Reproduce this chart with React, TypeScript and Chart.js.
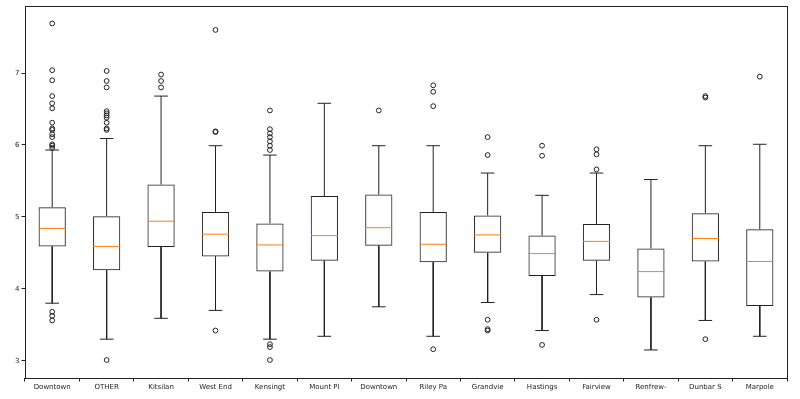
import React, { useEffect, useRef } from "react";
import { Chart, registerables } from "chart.js";

Chart.register(...registerables);

const categories = [
  "Downtown", "OTHER", "Kitsilan", "West End", "Kensingt", "Mount Pl", "Downtown",
  "Riley Pa", "Grandvie", "Hastings", "Fairview", "Renfrew-", "Dunbar S", "Marpole",
];

const q1 = [4.59, 4.26, 4.58, 4.45, 4.24, 4.39, 4.60, 4.37, 4.50, 4.18, 4.39, 3.88, 4.38, 3.76];
const median = [4.84, 4.59, 4.94, 4.76, 4.61, 4.74, 4.85, 4.62, 4.75, 4.49, 4.66, 4.24, 4.70, 4.38];
const q3 = [5.135, 5.01, 5.45, 5.07, 4.91, 5.29, 5.31, 5.07, 5.02, 4.74, 4.90, 4.56, 5.05, 4.83];
const whiskerLow = [3.80, 3.30, 3.59, 3.70, 3.30, 3.34, 3.75, 3.34, 3.81, 3.42, 3.92, 3.15, 3.56, 3.34];
const whiskerHigh = [5.93, 6.09, 6.68, 5.99, 5.86, 6.58, 5.99, 5.99, 5.61, 5.30, 5.61, 5.52, 5.99, 6.01];

const outliers: number[][] = [
  [7.69, 7.04, 6.90, 6.68, 6.58, 6.51, 6.31, 6.23, 6.21, 6.15, 6.11, 6.01, 5.99, 5.96, 3.68, 3.625, 3.56],
  [7.03, 6.89, 6.80, 6.47, 6.44, 6.41, 6.38, 6.31, 6.23, 6.21, 3.01],
  [6.98, 6.89, 6.80],
  [7.60, 6.19, 6.18, 3.42],
  [6.48, 6.22, 6.16, 6.11, 6.05, 5.99, 5.93, 3.23, 3.19, 3.01],
  [],
  [6.48],
  [6.83, 6.74, 6.54, 3.16],
  [6.11, 5.86, 3.57, 3.44, 3.42],
  [5.99, 5.85, 3.22],
  [5.94, 5.87, 5.66, 3.57],
  [],
  [6.68, 6.66, 3.30],
  [6.95],
];

const yTicks = [3, 4, 5, 6, 7];
const yMin = 2.76;
const yMax = 7.93;
const boxWidth = 0.5;
const capWidth = 0.25;

const framePlugin = {
  id: "frame",
  afterDraw(chart: any) {
    const { ctx, chartArea } = chart;
    ctx.save();
    ctx.strokeStyle = "#222";
    ctx.lineWidth = 1;
    ctx.strokeRect(
      Math.round(chartArea.left) + 0.5,
      Math.round(chartArea.top) + 0.5,
      Math.round(chartArea.right - chartArea.left),
      Math.round(chartArea.bottom - chartArea.top)
    );
    ctx.restore();
  },
};

export default function App() {
  const ref = useRef<HTMLCanvasElement | null>(null);

  useEffect(() => {
    if (!ref.current) return;
    const xs = categories.map((_, i) => i + 1);

    const boxes = xs.map((x, i) => ({ x, y: [q1[i], q3[i]] }));

    const whiskers: any[] = [];
    xs.forEach((x, i) => {
      whiskers.push({ x, y: q1[i] }, { x, y: whiskerLow[i] }, { x, y: null });
      whiskers.push({ x, y: q3[i] }, { x, y: whiskerHigh[i] }, { x, y: null });
      whiskers.push({ x: x - capWidth / 2, y: whiskerLow[i] }, { x: x + capWidth / 2, y: whiskerLow[i] }, { x, y: null });
      whiskers.push({ x: x - capWidth / 2, y: whiskerHigh[i] }, { x: x + capWidth / 2, y: whiskerHigh[i] }, { x, y: null });
    });

    const medians: any[] = [];
    xs.forEach((x, i) => {
      medians.push({ x: x - boxWidth / 2, y: median[i] }, { x: x + boxWidth / 2, y: median[i] }, { x, y: null });
    });

    const fliers: any[] = [];
    xs.forEach((x, i) => outliers[i].forEach((v) => fliers.push({ x, y: v })));

    const font = { family: "'DejaVu Sans', sans-serif", size: 7 };

    const chart = new Chart(ref.current, {
      type: "bar",
      data: {
        datasets: [
          {
            type: "bar",
            data: boxes as any,
            backgroundColor: "rgba(255,255,255,0)",
            borderColor: "#222",
            borderWidth: 1,
            borderSkipped: false,
            categoryPercentage: 1,
            barPercentage: boxWidth,
            order: 3,
          } as any,
          {
            type: "line",
            data: whiskers,
            borderColor: "#222",
            borderWidth: 1,
            pointRadius: 0,
            spanGaps: false,
            order: 2,
          },
          {
            type: "line",
            data: medians,
            borderColor: "#ff7f0e",
            borderWidth: 1,
            pointRadius: 0,
            spanGaps: false,
            order: 1,
          },
          {
            type: "scatter",
            data: fliers,
            pointStyle: "circle",
            pointRadius: 2.4,
            backgroundColor: "rgba(0,0,0,0)",
            borderColor: "#222",
            borderWidth: 1,
            order: 0,
          },
        ],
      },
      options: {
        animation: false,
        responsive: true,
        maintainAspectRatio: false,
        layout: { padding: { top: 6, right: 13, left: 0, bottom: 0 } },
        plugins: { legend: { display: false }, tooltip: { enabled: false }, title: { display: false } },
        scales: {
          x: {
            type: "linear",
            min: 0.5,
            max: 14.5,
            offset: false,
            afterBuildTicks: (scale: any) => {
              scale.ticks = xs.map((v) => ({ value: v }));
            },
            afterFit: (scale: any) => {
              scale.height = 21;
            },
            ticks: {
              autoSkip: false,
              maxRotation: 0,
              padding: 1,
              color: "#222",
              font,
              callback: (v: any) => categories[Math.round(Number(v)) - 1] ?? "",
            },
            grid: { drawOnChartArea: false, drawTicks: true, tickLength: 3.5, color: "#222" },
            border: { display: false },
          },
          y: {
            type: "linear",
            min: yMin,
            max: yMax,
            afterBuildTicks: (scale: any) => {
              scale.ticks = yTicks.map((v) => ({ value: v }));
            },
            afterFit: (scale: any) => {
              scale.width = 25;
            },
            ticks: { padding: 2, color: "#222", font, callback: (v: any) => String(v) },
            grid: { drawOnChartArea: false, drawTicks: true, tickLength: 3.5, color: "#222" },
            border: { display: false },
          },
        },
      },
      plugins: [framePlugin],
    });
    return () => chart.destroy();
  }, []);

  return (
    <div style={{ position: "fixed", left: 0, top: 0, width: 800, height: 399, background: "#fff" }}>
      <canvas ref={ref} />
    </div>
  );
}
